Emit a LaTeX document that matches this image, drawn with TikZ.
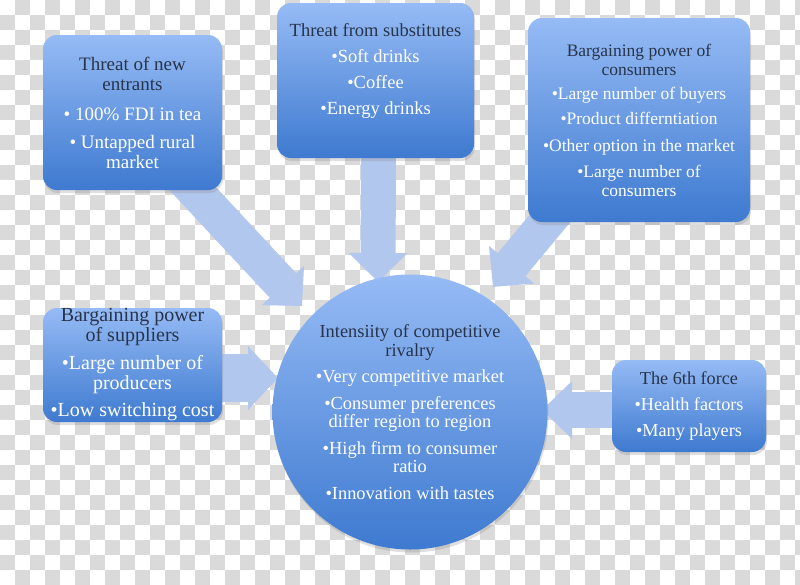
\documentclass[tikz,border=0pt]{standalone}
\usepackage{fontspec}
\setmainfont{Liberation Serif}
\usetikzlibrary{arrows.meta,calc,shadows}
\definecolor{forcetop}{RGB}{150,187,245}
\definecolor{forcebot}{RGB}{62,122,208}
\definecolor{headtxt}{RGB}{40,52,74}
\definecolor{flowblue}{RGB}{178,199,238}
\definecolor{checkgray}{RGB}{218,218,218}
\pgfdeclarelayer{board}
\pgfsetlayers{board,main}
\newcommand{\hd}[1]{\textcolor{headtxt}{#1}}

\begin{document}
\begin{tikzpicture}[x=1pt,y=-1pt,
  force/.style={rectangle,rounded corners=14pt,top color=forcetop,bottom color=forcebot,
    drop shadow={shadow xshift=1pt,shadow yshift=-3pt,opacity=0.25},
    text=white,align=center,inner sep=0pt},
  flow/.style={line width=#1,draw=flowblue}]
  \useasboundingbox (0,0) rectangle (800,584);
  \begin{pgfonlayer}{board}
    \fill[white] (0,0) rectangle (800,584);
    \foreach \j in {0,...,38}
      \foreach \i in {0,...,26}
        \fill[checkgray] ({(2*\i+mod(\j+1,2))*15},{\j*15}) rectangle ++(15,15);
  \end{pgfonlayer}

  \node[force,minimum width=179pt,minimum height=155pt,font=\fontsize{19}{20}\selectfont] (ent) at (132.5,112.5)
    {\hd{Threat of new}\\\hd{entrants}\\[10pt]• 100\% FDI in tea\\[8pt]• Untapped rural\\market};
  \node[force,minimum width=197pt,minimum height=155pt,font=\fontsize{18.5}{20}\selectfont] (sub) at (375.5,80.5)
    {\hd{Threat from substitutes}\\[6pt]•Soft drinks\\[6pt]•Coffee\\[6pt]•Energy drinks\rule[-24pt]{0pt}{0pt}};
  \node[force,minimum width=222pt,minimum height=204pt,font=\fontsize{17.5}{19}\selectfont] (con) at (639,120)
    {\hd{Bargaining power of}\\\hd{consumers}\\[5pt]•Large number of buyers\\[6pt]•Product differntiation\\[8pt]•Other option in the market\\[7pt]•Large number of\\consumers};
  \node[force,minimum width=179pt,minimum height=114pt,font=\fontsize{20}{19.5}\selectfont] (sup) at (132.5,365)
    {\hd{Bargaining power}\\\hd{of suppliers}\\[9pt]•Large number of\\producers\\[8pt]•Low switching cost};
  \node[force,circle,minimum size=275pt,font=\fontsize{18.4}{18.5}\selectfont] (riv) at (410,412)
    {\hd{Intensiity of competitive}\\\hd{rivalry}\\[8pt]•Very competitive market\\[8pt]•Consumer preferences\\differ region to region\\[8pt]•High firm to consumer\\ratio\\[8pt]•Innovation with tastes};
  \node[force,minimum width=154pt,minimum height=92pt,font=\fontsize{18.2}{19}\selectfont] (six) at (689,406)
    {\hd{The 6th force}\\[7pt]•Health factors\\[7pt]•Many players};

  \begin{pgfonlayer}{board}
    \draw[flow=36pt,-{Triangle[length=28pt,width=56pt]}] ($(ent.south east)+(-42,-15)$) -- ($(riv)+(-108,-106)$);
    \draw[flow=35pt,-{Triangle[length=29pt,width=57pt]}] ($(sub.south)+(3,-8)$) -- ($(riv)+(-32,-130)$);
    \draw[flow=36pt,-{Triangle[length=29pt,width=57pt]}] ($(con.south west)+(29,-12)$) -- ($(riv)+(83,-125)$);
    \draw[flow=48pt,-{Triangle[length=30pt,width=62pt]}] ($(sup.east)+(-10,13)$) -- ($(riv)+(-132,-34)$);
    \draw[flow=36pt,-{Triangle[length=30pt,width=56pt]}] ($(six.west)+(10,4)$) -- ($(riv)+(132,-2)$);
  \end{pgfonlayer}
\end{tikzpicture}
\end{document}
